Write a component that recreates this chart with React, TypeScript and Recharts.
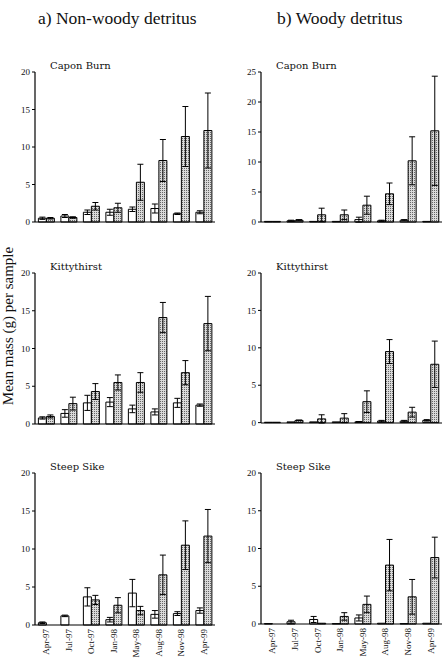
import React from "react";
import { BarChart, Bar, XAxis, YAxis, ErrorBar } from "recharts";

// Sampling dates shared by every panel
const months = ["Apr-97", "Jul-97", "Oct-97", "Jan-98", "May-98", "Aug-98", "Nov-98", "Apr-99"];

// a) Non-woody detritus
const caponNonWoodyOpen = [0.5, 0.8, 1.3, 1.3, 1.7, 1.8, 1.1, 1.3];
const caponNonWoodyOpenErr = [0.15, 0.2, 0.3, 0.4, 0.3, 0.6, 0.1, 0.2];
const caponNonWoodyDotted = [0.5, 0.6, 2.1, 1.9, 5.3, 8.2, 11.4, 12.2];
const caponNonWoodyDottedErr = [0.1, 0.1, 0.5, 0.6, 2.4, 2.8, 4.0, 5.0];

const kittyNonWoodyOpen = [0.8, 1.4, 2.8, 2.9, 2.0, 1.6, 2.8, 2.5];
const kittyNonWoodyOpenErr = [0.15, 0.5, 1.0, 0.6, 0.5, 0.4, 0.6, 0.15];
const kittyNonWoodyDotted = [1.0, 2.7, 4.3, 5.5, 5.5, 14.1, 6.8, 13.3];
const kittyNonWoodyDottedErr = [0.2, 0.85, 1.05, 1.0, 1.3, 2.0, 1.6, 3.6];

const steepNonWoodyOpen = [0.3, 1.2, 3.7, 0.7, 4.2, 1.4, 1.5, 1.9];
const steepNonWoodyOpenErr = [0.1, 0.1, 1.2, 0.3, 1.8, 0.5, 0.25, 0.35];
const steepNonWoodyDotted = [0, 0, 3.3, 2.6, 1.9, 6.6, 10.5, 11.7];
const steepNonWoodyDottedErr = [0, 0, 0.6, 1.0, 0.55, 2.6, 3.2, 3.5];

// b) Woody detritus
const caponWoodyOpen = [0.1, 0.2, 0.1, 0.1, 0.4, 0.2, 0.3, 0.1];
const caponWoodyOpenErr = [0, 0.1, 0, 0, 0.4, 0.1, 0.1, 0];
const caponWoodyDotted = [0.1, 0.3, 1.2, 1.2, 2.8, 4.7, 10.2, 15.2];
const caponWoodyDottedErr = [0, 0.1, 1.1, 0.8, 1.5, 1.8, 4.0, 9.1];

const kittyWoodyOpen = [0.05, 0.1, 0.1, 0.1, 0.1, 0.2, 0.2, 0.3];
const kittyWoodyOpenErr = [0, 0, 0, 0, 0.05, 0.1, 0.1, 0.1];
const kittyWoodyDotted = [0.05, 0.3, 0.5, 0.6, 2.8, 9.5, 1.4, 7.8];
const kittyWoodyDottedErr = [0, 0.05, 0.55, 0.6, 1.45, 1.6, 0.65, 3.1];

const steepWoodyOpen = [0.05, 0.3, 0.6, 0.05, 0.8, 0.1, 0.05, 0.1];
const steepWoodyOpenErr = [0, 0.2, 0.4, 0, 0.4, 0, 0, 0];
const steepWoodyDotted = [0, 0, 0.1, 1.0, 2.6, 7.8, 3.6, 8.8];
const steepWoodyDottedErr = [0, 0, 0, 0.5, 1.1, 3.4, 2.3, 2.7];

const ticks20 = [0, 5, 10, 15, 20];
const ticks25 = [0, 5, 10, 15, 20, 25];

const serif = "'Liberation Serif', 'Times New Roman', serif";

interface PanelProps {
  id: string;
  title: string;
  open: number[];
  openErr: number[];
  dotted: number[];
  dottedErr: number[];
  yTicks: number[];
  left: number;
  top: number;
  width: number;
  height: number;
  yWidth: number;
  showMonths?: boolean;
}

// month labels read bottom-to-top, hanging just under the axis
const MonthTick = (props: any) => {
  const { x, y, payload } = props;
  return (
    <text
      x={x}
      y={y}
      dx={4}
      dy={3}
      transform={`rotate(-90 ${x} ${y})`}
      textAnchor="end"
      fontSize={9}
      fontFamily={serif}
      fill="#111"
    >
      {payload.value}
    </text>
  );
};

const Panel: React.FC<PanelProps> = ({
  id,
  title,
  open,
  openErr,
  dotted,
  dottedErr,
  yTicks,
  left,
  top,
  width,
  height,
  yWidth,
  showMonths = false,
}) => {
  const rows = months.map((m, i) => ({
    month: m,
    open: open[i],
    openErr: openErr[i],
    dotted: dotted[i],
    dottedErr: dottedErr[i],
  }));

  return (
    <div style={{ position: "absolute", left, top, width, height }}>
      <div
        style={{
          position: "absolute",
          left: yWidth + 15,
          top: 0,
          fontFamily: "'DejaVu Serif', serif",
          fontSize: 10,
          color: "#111",
          whiteSpace: "nowrap",
        }}
      >
        {title}
      </div>
      <BarChart
        width={width}
        height={height}
        data={rows}
        margin={{ top: 12, right: 0, left: 0, bottom: 0 }}
        barCategoryGap="15%"
        barGap={0}
      >
        <defs>
          <pattern id={`dots-${id}`} width={2} height={2} patternUnits="userSpaceOnUse">
            <rect width={2} height={2} fill="#dadada" />
            <rect width={1} height={1} fill="#666" />
          </pattern>
        </defs>
        <XAxis
          dataKey="month"
          interval={0}
          height={showMonths ? 38 : 4}
          tickLine={false}
          axisLine={{ stroke: "#000", strokeWidth: 1.2 }}
          tick={showMonths ? <MonthTick /> : false}
        />
        <YAxis
          width={yWidth}
          domain={[0, yTicks[yTicks.length - 1]]}
          ticks={yTicks}
          interval={0}
          tickSize={3}
          axisLine={{ stroke: "#000", strokeWidth: 1.2 }}
          tickLine={{ stroke: "#000" }}
          tick={{ fontSize: 9, fontFamily: serif, fill: "#111" }}
        />
        <Bar dataKey="open" fill="#fff" stroke="#000" strokeWidth={1} isAnimationActive={false}>
          <ErrorBar dataKey="openErr" width={3} stroke="#000" strokeWidth={1} direction="y" />
        </Bar>
        <Bar
          dataKey="dotted"
          fill={`url(#dots-${id})`}
          stroke="#000"
          strokeWidth={1}
          isAnimationActive={false}
        >
          <ErrorBar dataKey="dottedErr" width={3} stroke="#000" strokeWidth={1} direction="y" />
        </Bar>
      </BarChart>
    </div>
  );
};

const App: React.FC = () => {
  return (
    <div
      style={{
        position: "absolute",
        left: 0,
        top: 0,
        width: 446,
        height: 664,
        background: "#fff",
        overflow: "hidden",
      }}
    >
      <svg width={446} height={664} style={{ position: "absolute", left: 0, top: 0 }}>
        <text x={38} y={24} fontFamily={serif} fontSize={17.5} fill="#111">
          a) Non-woody detritus
        </text>
        <text x={277} y={24} fontFamily={serif} fontSize={17.5} fill="#111">
          b) Woody detritus
        </text>
        <text
          x={13}
          y={326}
          transform="rotate(-90 13 326)"
          textAnchor="middle"
          fontFamily={serif}
          fontSize={15}
          fill="#111"
        >
          Mean mass (g) per sample
        </text>
      </svg>

      <Panel
        id="cnw"
        title="Capon Burn"
        open={caponNonWoodyOpen}
        openErr={caponNonWoodyOpenErr}
        dotted={caponNonWoodyDotted}
        dottedErr={caponNonWoodyDottedErr}
        yTicks={ticks20}
        left={0}
        top={60}
        width={215}
        height={166}
        yWidth={35}
      />
      <Panel
        id="cw"
        title="Capon Burn"
        open={caponWoodyOpen}
        openErr={caponWoodyOpenErr}
        dotted={caponWoodyDotted}
        dottedErr={caponWoodyDottedErr}
        yTicks={ticks25}
        left={230}
        top={60}
        width={212}
        height={166}
        yWidth={31}
      />
      <Panel
        id="knw"
        title="Kittythirst"
        open={kittyNonWoodyOpen}
        openErr={kittyNonWoodyOpenErr}
        dotted={kittyNonWoodyDotted}
        dottedErr={kittyNonWoodyDottedErr}
        yTicks={ticks20}
        left={0}
        top={261}
        width={215}
        height={167}
        yWidth={35}
      />
      <Panel
        id="kw"
        title="Kittythirst"
        open={kittyWoodyOpen}
        openErr={kittyWoodyOpenErr}
        dotted={kittyWoodyDotted}
        dottedErr={kittyWoodyDottedErr}
        yTicks={ticks20}
        left={230}
        top={261}
        width={212}
        height={166}
        yWidth={31}
      />
      <Panel
        id="snw"
        title="Steep Sike"
        open={steepNonWoodyOpen}
        openErr={steepNonWoodyOpenErr}
        dotted={steepNonWoodyDotted}
        dottedErr={steepNonWoodyDottedErr}
        yTicks={ticks20}
        left={0}
        top={461}
        width={215}
        height={202}
        yWidth={35}
        showMonths
      />
      <Panel
        id="sw"
        title="Steep Sike"
        open={steepWoodyOpen}
        openErr={steepWoodyOpenErr}
        dotted={steepWoodyDotted}
        dottedErr={steepWoodyDottedErr}
        yTicks={ticks20}
        left={230}
        top={461}
        width={212}
        height={201}
        yWidth={31}
        showMonths
      />
    </div>
  );
};

export default App;
